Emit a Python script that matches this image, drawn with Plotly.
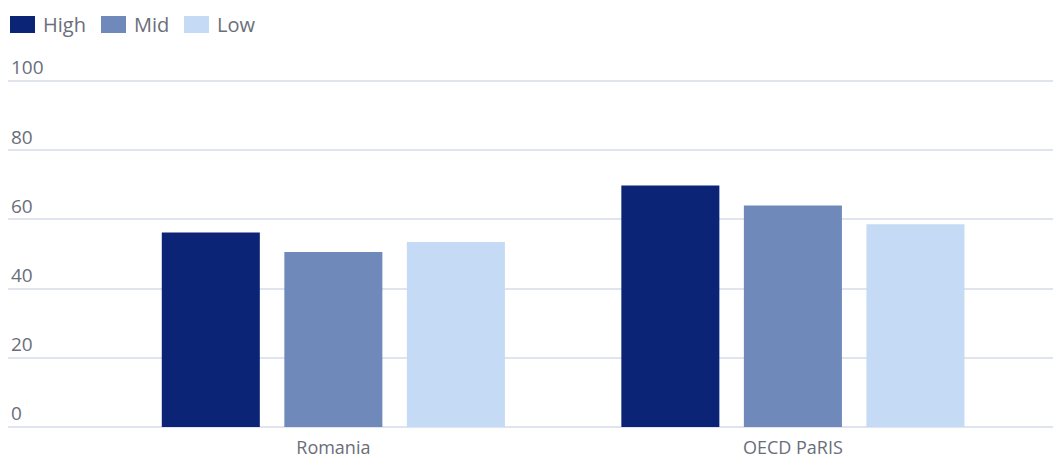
import plotly.graph_objects as go

categories = ["Romania", "OECD PaRIS"]
series_names = ["High", "Mid", "Low"]
high_values = [56.2, 69.8]
mid_values = [50.6, 64.0]
low_values = [53.5, 58.6]
series_colors = ["#0b2475", "#6f89ba", "#c5dbf5"]
y_tick_values = [0, 20, 40, 60, 80, 100]
y_tick_labels = ["0", "20", "40", "60", "80", "100"]

FONT = "Open Sans"
TEXT_COLOR = "#6a6e7a"
GRID_COLOR = "#dfe4ee"
FS = 19

W, H = 1053, 462
ML, MR, MT, MB = 8, 0, 40, 35
PW, PH = W - ML - MR, H - MT - MB
Y_TOP = 100 * PH / (427 - 81)  # keep 100 at the same pixel as reference


def px_to_paper(px, py):
    return (px - ML) / PW, (H - MB - py) / PH


fig = go.Figure()
for name, vals, col in zip(series_names, [high_values, mid_values, low_values], series_colors):
    fig.add_trace(go.Bar(x=categories, y=vals, name=name,
                         marker=dict(color=col, line=dict(width=0)), showlegend=False))

# legend drawn as swatches + text at top-left
legend_x = [10, 101, 184]
shapes = []
annotations = []
for i, (name, col) in enumerate(zip(series_names, series_colors)):
    x0 = legend_x[i]
    ax0, ay0 = px_to_paper(x0, 33)
    ax1, ay1 = px_to_paper(x0 + 25, 16)
    shapes.append(dict(type="rect", xref="paper", yref="paper",
                       x0=ax0, x1=ax1, y0=ay0, y1=ay1,
                       fillcolor=col, line=dict(width=0)))
    tx, ty = px_to_paper(x0 + 31, 25)
    annotations.append(dict(text=name, xref="paper", yref="paper",
                            x=tx, y=ty, xanchor="left", yanchor="middle", showarrow=False,
                            font=dict(family=FONT, size=20, color=TEXT_COLOR)))

fig.update_layout(
    width=W, height=H,
    margin=dict(l=ML, r=MR, t=MT, b=MB, autoexpand=False),
    paper_bgcolor="white", plot_bgcolor="white",
    barmode="group", bargap=0.2, bargroupgap=0.2,
    showlegend=False,
    shapes=shapes, annotations=annotations,
    font=dict(family=FONT, size=FS, color=TEXT_COLOR),
    xaxis=dict(range=[-0.708, 1.566], showgrid=False, showline=False, ticks="",
               automargin=False,
               ticklabelstandoff=8, tickfont=dict(size=18, color=TEXT_COLOR)),
    yaxis=dict(range=[0, Y_TOP], tickvals=y_tick_values, ticktext=y_tick_labels,
               automargin=False,
               showgrid=True, gridcolor=GRID_COLOR, gridwidth=1.5,
               zeroline=True, zerolinecolor=GRID_COLOR, zerolinewidth=1.5,
               showline=False, ticks="", ticklabelposition="inside top",
               tickfont=dict(size=FS, color=TEXT_COLOR)),
)

fig.write_html("out.html")
